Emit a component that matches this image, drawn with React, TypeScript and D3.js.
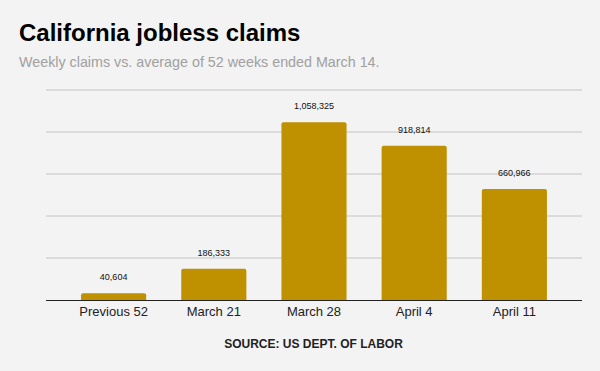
import React from "react";
import * as d3 from "d3";

const categories = ["Previous 52", "March 21", "March 28", "April 4", "April 11"];
const claims = [40604, 186333, 1058325, 918814, 660966];
const yTicks = [0, 250000, 500000, 750000, 1000000, 1250000];

const W = 600;
const H = 371;
const M = { left: 46, right: 18, top: 90, bottom: 71 };

export default function App() {
  const x = d3
    .scaleBand<string>()
    .domain(categories)
    .range([M.left, W - M.right])
    .paddingInner(0.35)
    .paddingOuter(0.35);
  const y = d3.scaleLinear().domain([0, 1250000]).range([H - M.bottom, M.top]);
  const fmt = d3.format(",");
  const font = "Liberation Sans, Arial, sans-serif";

  return (
    <div style={{ position: "fixed", left: 0, top: 0 }}>
      <svg width={W} height={H} style={{ display: "block", fontFamily: font }}>
        <rect width={W} height={H} fill="#f3f3f3" />
        <text x={19} y={41} fontSize={24} fontWeight="bold" fill="#000">
          California jobless claims
        </text>
        <text x={19} y={67} fontSize={14.3} fill="#a0a0a0">
          Weekly claims vs. average of 52 weeks ended March 14.
        </text>
        {yTicks.slice(1).map((t) => (
          <line
            key={t}
            x1={M.left}
            x2={W - M.right}
            y1={y(t)}
            y2={y(t)}
            stroke="#c4c4c4"
            strokeWidth={1}
          />
        ))}
        {categories.map((c, i) => {
          const x0 = x(c)!;
          const bw = x.bandwidth();
          const yt = y(claims[i]);
          const y0 = y(0);
          const r = 2;
          const d = `M${x0},${y0} L${x0},${yt + r} Q${x0},${yt} ${x0 + r},${yt} L${x0 + bw - r},${yt} Q${x0 + bw},${yt} ${x0 + bw},${yt + r} L${x0 + bw},${y0} Z`;
          return (
            <g key={c}>
              <path d={d} fill="#bf9000" />
              <text
                x={x0 + bw / 2}
                y={yt - 13}
                fontSize={9}
                textAnchor="middle"
                fill="#111"
              >
                {fmt(claims[i])}
              </text>
              <text
                x={x0 + bw / 2}
                y={316}
                fontSize={13}
                textAnchor="middle"
                fill="#222"
              >
                {c}
              </text>
            </g>
          );
        })}
        <line
          x1={M.left}
          x2={W - M.right}
          y1={y(0) + 0.5}
          y2={y(0) + 0.5}
          stroke="#222"
          strokeWidth={1}
        />
        <text
          x={313.5}
          y={348}
          fontSize={12}
          fontWeight="bold"
          textAnchor="middle"
          fill="#222"
        >
          SOURCE: US DEPT. OF LABOR
        </text>
      </svg>
    </div>
  );
}
